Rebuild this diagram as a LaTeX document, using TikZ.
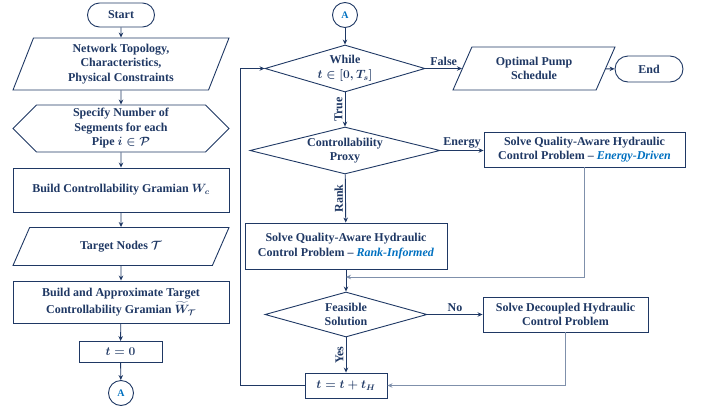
\documentclass[tikz,border=0pt]{standalone}
\usepackage{fontspec}
\setmainfont{Liberation Serif}
\usepackage{amsmath}
\usetikzlibrary{shapes.geometric,shapes.misc,shapes.symbols,arrows.meta}
\definecolor{navy}{HTML}{1F3864}
\definecolor{accent}{HTML}{0070C0}
\definecolor{pale}{HTML}{7F90AB}
\tikzset{
  base/.style={draw=navy, line width=0.9pt, text=navy, align=center,
    font=\fontsize{12}{14.5}\selectfont\bfseries\boldmath, inner sep=2pt},
  term/.style={base, rounded rectangle},
  io/.style={base, trapezium, trapezium stretches body,
    trapezium left angle=#1, trapezium right angle={\the\numexpr180-#1\relax}},
  prep/.style={base, signal, signal to=east and west, signal pointer angle=90},
  proc/.style={base, rectangle},
  cond/.style={base, diamond, aspect=4, inner sep=0pt},
  conn/.style={draw=navy, line width=0.9pt, circle, minimum size=25pt,
    inner sep=0pt, text=accent, font=\fontsize{10}{12}\selectfont\bfseries},
  flow/.style={navy, line width=0.9pt, -{Stealth[length=5pt,width=4.5pt]}},
  tag/.style={text=navy, inner sep=2pt, font=\fontsize{12}{14}\selectfont\bfseries},
}
\begin{document}
\begin{tikzpicture}[x=1pt,y=-1pt]
  \useasboundingbox (0,0) rectangle (702,413);
  % left column
  \path
    (121,15) node[term, minimum width=71pt, minimum height=24pt] (start) {Start}
    (121,64) node[io=65, minimum width=216pt, minimum height=52pt] (net)
      {Network Topology,\\Characteristics,\\Physical Constraints}
    (121,128.5) node[prep, minimum width=216pt, minimum height=47pt] (seg)
      {Specify Number of\\Segments for each\\Pipe $i \in \mathcal{P}$}
    (121,190) node[proc, minimum width=216pt, minimum height=44pt] (gram)
      {Build Controllability Gramian $W_c$}
    (121,246.5) node[io=42, minimum width=216pt, minimum height=38pt] (target)
      {Target Nodes $\mathcal{T}$}
    (121,302) node[proc, minimum width=216pt, minimum height=42pt] (approx)
      {Build and Approximate Target\\[1.5pt]Controllability Gramian $\widetilde{W}_{\mathcal{T}}$}
    (120.5,352) node[proc, minimum width=83pt, minimum height=21pt] (tzero) {$t=0$}
    (121,393) node[conn] (linkout) {A};
  % right column
  \path
    (345,15) node[conn] (linkin) {A}
    (345,68.5) node[cond, minimum width=160pt, minimum height=47pt] (while)
      {While\\$t \in [0, T_s]$}
    (534,68.5) node[io=55, minimum width=162pt, minimum height=43pt] (pump)
      {Optimal Pump\\Schedule}
    (649,69) node[term, minimum width=72pt, minimum height=26pt] (finish) {End}
    (345,150.5) node[cond, minimum width=190pt, minimum height=47pt] (proxy)
      {Controllability\\Proxy}
    (584.5,149.5) node[proc, minimum width=201pt, minimum height=35pt] (energy)
      {Solve Quality-Aware Hydraulic\\Control Problem -- \textcolor{accent}{\textit{Energy-Driven}}}
    (346,246) node[proc, minimum width=202pt, minimum height=46pt] (rank)
      {Solve Quality-Aware Hydraulic\\Control Problem -- \textcolor{accent}{\textit{Rank-Informed}}}
    (346,314.5) node[cond, minimum width=162pt, minimum height=45pt] (feas)
      {Feasible\\Solution}
    (565.5,314.5) node[proc, minimum width=165pt, minimum height=35pt] (decoup)
      {Solve Decoupled Hydraulic\\Control Problem}
    (346,385.5) node[proc, minimum width=82pt, minimum height=25pt] (tnext) {$t=t+t_H$};
  \coordinate (merge) at (346,277);
  \coordinate (back) at (240,385.5);
  \begin{scope}[flow]
    \draw (start) -- (net);
    \draw (net) -- (seg);
    \draw (seg) -- (gram);
    \draw (gram) -- (target);
    \draw (target) -- (approx);
    \draw (approx) -- (tzero);
    \draw (tzero) -- (linkout);
    \draw (linkin) -- (while);
    \draw (while) -- node[tag, above] {False} (pump);
    \draw (pump) -- (finish);
    \draw (while) -- node[tag, midway, rotate=90, above] {True} (proxy);
    \draw (proxy.east) -- node[tag, above] {Energy} (proxy.east -| energy.west);
    \draw (proxy) -- node[tag, midway, rotate=90, above] {Rank} (rank);
    \draw (rank) -- (feas);
    \draw[pale] (energy.south) |- (merge);
    \draw (feas) -- node[tag, above] {No} (decoup);
    \draw (feas) -- node[tag, midway, rotate=90, above] {Yes} (tnext);
    \draw[pale] (decoup.south) |- (tnext.east);
    \draw (tnext.west) -- (back) |- (while.west);
  \end{scope}
\end{tikzpicture}
\end{document}
